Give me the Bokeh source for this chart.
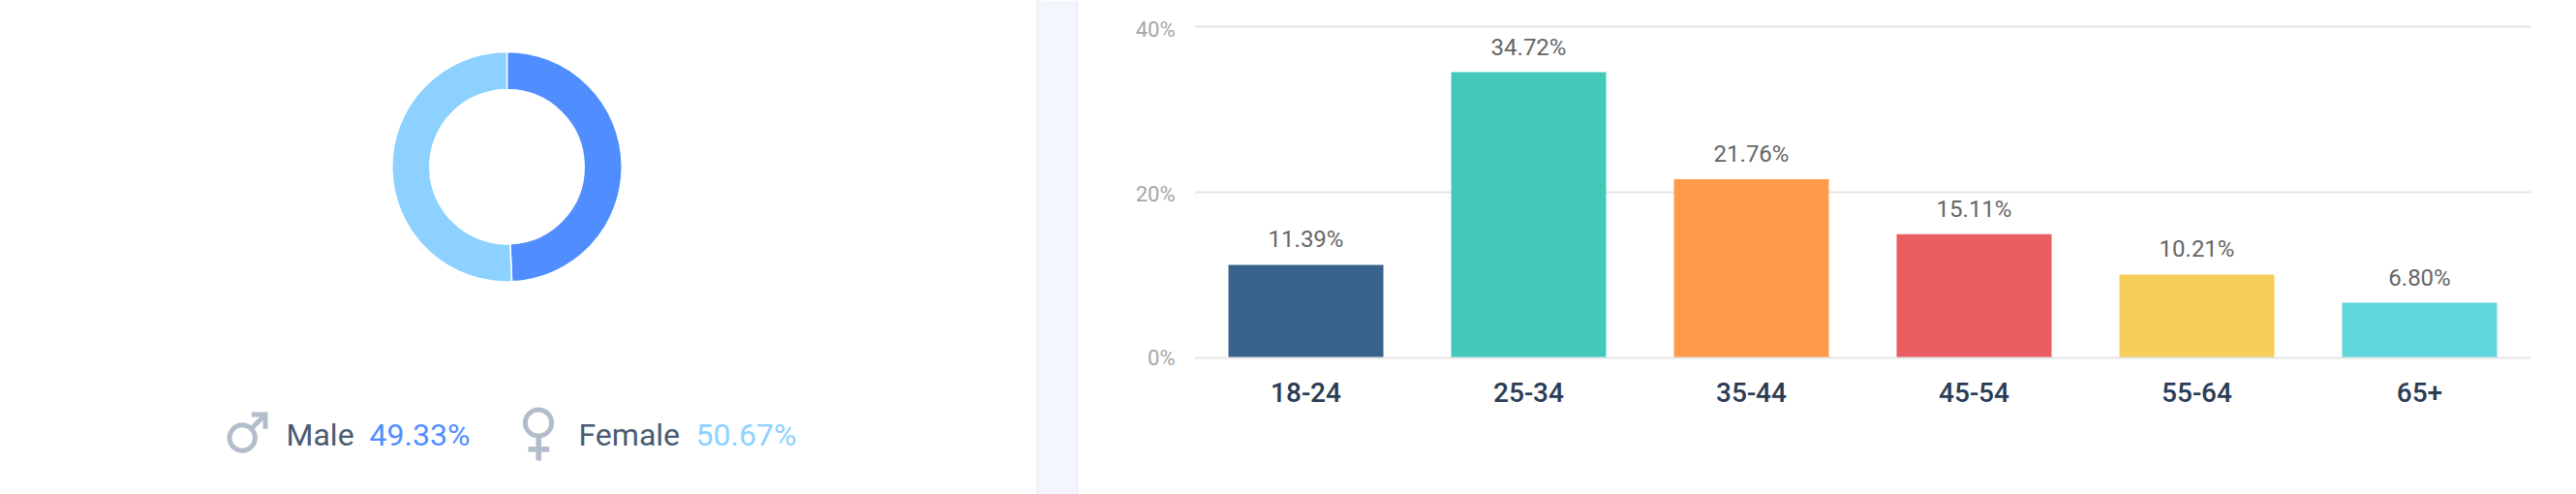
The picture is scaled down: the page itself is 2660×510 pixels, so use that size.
import math
from bokeh.core.properties import value
from bokeh.embed import file_html
from bokeh.layouts import column, row
from bokeh.models import (ColumnDataSource, FactorRange, FixedTicker, Grid, LinearAxis,
                          PrintfTickFormatter, Range1d)
from bokeh.plotting import figure
from bokeh.resources import INLINE

# ---- data ----
genders = ["Male", "Female"]
gender_shares = [49.33, 50.67]
gender_colors = ["#508eff", "#8cd1ff"]

age_groups = ["18-24", "25-34", "35-44", "45-54", "55-64", "65+"]
age_shares = [11.39, 34.72, 21.76, 15.11, 10.21, 6.80]
age_colors = ["#3a638c", "#42c9b9", "#ff9b4a", "#ea5e61", "#f8ce5a", "#61d5dc"]
axis_ticks = [0, 20, 40]

# ---- layout (page pixels) ----
W, H = 2660, 510
def Y(y):
    return H - y

ICON = "#b3bccb"
TEXT = "#4a5a70"

# ---- left panel: donut, legend, separator strip ----
left = figure(width=1114, height=H, x_range=Range1d(0, 1114), y_range=Range1d(0, H),
              x_axis_location=None, y_axis_location=None, toolbar_location=None,
              output_backend="svg", min_border=0, outline_line_color=None)
left.grid.visible = False

starts, ends = [], []
angle = math.pi / 2
for share in gender_shares:
    starts.append(angle)
    angle -= 2 * math.pi * share / sum(gender_shares)
    ends.append(angle)
left.annular_wedge(x=523, y=Y(171.7), inner_radius=79.7, outer_radius=118.7,
                   start_angle=starts, end_angle=ends, direction="clock",
                   fill_color=gender_colors, line_color="white", line_width=1.5)

# separator strip with slightly darker inner edges
left.quad(left=[1070], right=[1114], bottom=[0], top=[H], fill_color="#f3f6fc", line_color=None)
for a, b, c in [(1070, 1073, "#eef2f9"), (1073, 1076, "#f1f4fb"), (1108, 1111, "#f1f4fb"), (1111, 1114, "#eef2f9")]:
    left.quad(left=[a], right=[b], bottom=[0], top=[H], fill_color=c, line_color=None)

# male icon
left.circle(x=[249.7], y=[Y(451.5)], radius=13.2, fill_color=None, line_color=ICON, line_width=5)
left.line([259.3, 273.5, 273.5], [Y(427.5), Y(427.5), Y(442.3)], line_color=ICON, line_width=5, line_join="miter")
left.line([259.5, 273], [Y(441.5), Y(428)], line_color=ICON, line_width=5)
# female icon
left.circle(x=[555.5], y=[Y(436)], radius=13.6, fill_color=None, line_color=ICON, line_width=5)
left.line([555.7, 555.7], [Y(450), Y(475)], line_color=ICON, line_width=5.5)
left.line([545, 566.7], [Y(463.3), Y(463.3)], line_color=ICON, line_width=5.5)

for x, txt, col in [(295, genders[0], TEXT),
                    (381, f"{gender_shares[0]:.2f}%", gender_colors[0]),
                    (597, genders[1], TEXT),
                    (718, f"{gender_shares[1]:.2f}%", gender_colors[1])]:
    left.text(x=[x], y=[Y(448.5)], text=[txt], text_font=value("Roboto"), text_font_size="32px",
              text_color=col, text_align="left", text_baseline="middle")

# ---- right panel: bars ----
F_L, F_R, F_T, F_B = 1233, 2613, 0, 369

def px_range(zero_y, px_per_unit):
    return Range1d((zero_y - F_B) / px_per_unit, (zero_y - F_T) / px_per_unit)

bars = figure(width=W - 1114, height=H,
              x_range=FactorRange(factors=age_groups, range_padding=0, factor_padding=0, group_padding=0),
              y_range=px_range(369.8, 8.575), y_axis_location=None, toolbar_location=None,
              output_backend="svg", min_border_left=F_L - 1114, min_border_right=W - F_R,
              min_border_top=0, min_border_bottom=H - F_B, outline_line_color=None)
bars.extra_y_ranges = {"bars": px_range(370, 8.524), "labels": px_range(369, 8.4675)}
bars.xgrid.visible = False
bars.ygrid.visible = False

grid = Grid(dimension=1, ticker=FixedTicker(ticks=axis_ticks[1:]), grid_line_color="#e4e4e4", grid_line_width=2)
bars.add_layout(grid)

src = ColumnDataSource(dict(x=age_groups, top=age_shares, color=age_colors,
                            label=[f"{v:.2f}%" for v in age_shares]))
bars.vbar(x="x", top="top", bottom=0, width=160 / 230, fill_color="color", line_color=None,
          source=src, y_range_name="bars")
bars.text(x="x", y="top", text="label", source=src, y_range_name="bars", y_offset=-26,
          text_font=value("Roboto"), text_font_size="24px", text_color="#666666",
          text_align="center", text_baseline="middle")

yaxis = LinearAxis(y_range_name="labels", ticker=FixedTicker(ticks=axis_ticks),
                   formatter=PrintfTickFormatter(format="%d%%"),
                   axis_line_color=None, major_tick_line_color=None, minor_tick_line_color=None,
                   major_label_standoff=14, major_label_text_font="Roboto",
                   major_label_text_font_size="22px", major_label_text_color="#a6a6a6")
bars.add_layout(yaxis, "left")

xa = bars.xaxis[0]
xa.axis_line_color = "#e4e4e4"
xa.axis_line_width = 2
xa.major_tick_line_color = None
xa.minor_tick_line_color = None
xa.major_label_standoff = 19
xa.major_label_text_font = "Roboto Medium"
xa.major_label_text_font_size = "28px"
xa.major_label_text_color = "#2b3c55"

page = row(column(left), column(bars), spacing=0)
open("out.html", "w").write(file_html(page, INLINE))
